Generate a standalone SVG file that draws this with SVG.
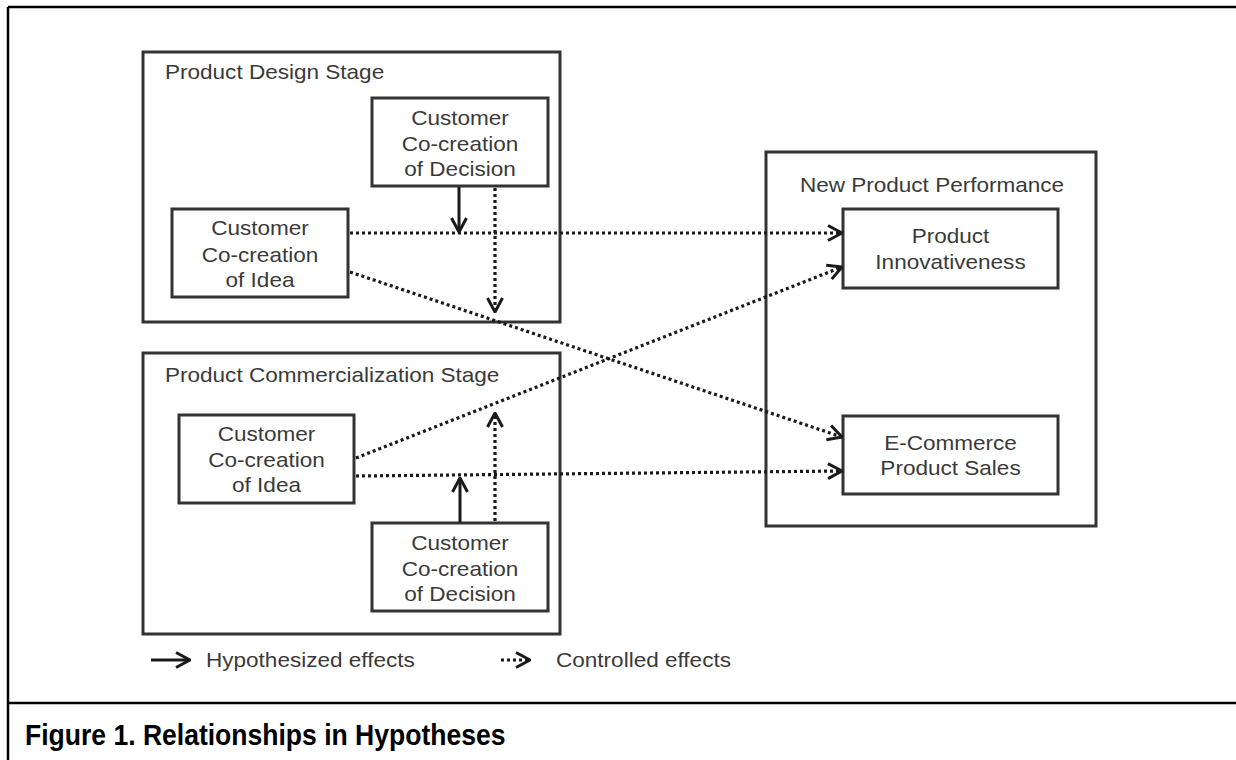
<svg xmlns="http://www.w3.org/2000/svg" width="1236" height="760" viewBox="0 0 1236 760">
<style>
.frame{fill:none;stroke:#000;stroke-width:2.5}
.box{fill:#fff;stroke:#333;stroke-width:3}
.t{font-family:"Liberation Sans",Arial,sans-serif;font-size:20.5px;fill:#3a3a3a}
.c{text-anchor:middle}
.cap{font-family:"Liberation Sans",Arial,sans-serif;font-size:29px;font-weight:bold;fill:#000}
.dot{fill:none;stroke:#1a1a1a;stroke-width:3.2;stroke-dasharray:3 3}
.sol{fill:none;stroke:#1a1a1a;stroke-width:3}
</style>
<defs>
<marker id="ah" viewBox="0 0 16 18" refX="15" refY="9" markerWidth="16" markerHeight="18" markerUnits="userSpaceOnUse" orient="auto">
<path d="M1,1.5 L15,9 L1,16.5" fill="none" stroke="#1a1a1a" stroke-width="3" stroke-linejoin="round" stroke-dasharray="none"/>
</marker>
</defs>
<rect width="1236" height="760" fill="#fff"/>
<g id="frame">
<line class="frame" x1="8" y1="7" x2="1236" y2="7"/>
<line class="frame" x1="8" y1="7" x2="8" y2="760"/>
<line class="frame" x1="8" y1="703" x2="1236" y2="703"/>
<text class="cap" transform="matrix(0.915,0,0,1,25,745)">Figure 1. Relationships in Hypotheses</text>
</g>
<g id="design-stage">
<rect class="box" x="143" y="52" width="417" height="270"/>
<text class="t" transform="matrix(1.1,0,0,1,165,79)">Product Design Stage</text>
</g>
<g id="commercialization-stage">
<rect class="box" x="143" y="353" width="417" height="281"/>
<text class="t" transform="matrix(1.1,0,0,1,165,382)">Product Commercialization Stage</text>
</g>
<g id="performance">
<rect class="box" x="766" y="152" width="330" height="374"/>
<text class="t c" transform="matrix(1.1,0,0,1,932,192)">New Product Performance</text>
</g>
<g id="design-decision">
<rect class="box" x="372" y="98" width="176" height="88"/>
<text class="t c" transform="matrix(1.1,0,0,1,460,125)">Customer</text>
<text class="t c" transform="matrix(1.1,0,0,1,460,151)">Co-creation</text>
<text class="t c" transform="matrix(1.1,0,0,1,460,176)">of Decision</text>
</g>
<g id="design-idea">
<rect class="box" x="172" y="209" width="176" height="88"/>
<text class="t c" transform="matrix(1.1,0,0,1,260,235)">Customer</text>
<text class="t c" transform="matrix(1.1,0,0,1,260,262)">Co-creation</text>
<text class="t c" transform="matrix(1.1,0,0,1,260,287)">of Idea</text>
</g>
<g id="comm-idea">
<rect class="box" x="179" y="415" width="175" height="88"/>
<text class="t c" transform="matrix(1.1,0,0,1,266.5,441)">Customer</text>
<text class="t c" transform="matrix(1.1,0,0,1,266.5,467)">Co-creation</text>
<text class="t c" transform="matrix(1.1,0,0,1,266.5,492)">of Idea</text>
</g>
<g id="comm-decision">
<rect class="box" x="372" y="523" width="176" height="88"/>
<text class="t c" transform="matrix(1.1,0,0,1,460,550)">Customer</text>
<text class="t c" transform="matrix(1.1,0,0,1,460,576)">Co-creation</text>
<text class="t c" transform="matrix(1.1,0,0,1,460,601)">of Decision</text>
</g>
<g id="innovativeness">
<rect class="box" x="843" y="209" width="215" height="79"/>
<text class="t c" transform="matrix(1.1,0,0,1,950.5,243)">Product</text>
<text class="t c" transform="matrix(1.1,0,0,1,950.5,269)">Innovativeness</text>
</g>
<g id="sales">
<rect class="box" x="843" y="416" width="215" height="78"/>
<text class="t c" transform="matrix(1.1,0,0,1,950.5,450)">E-Commerce</text>
<text class="t c" transform="matrix(1.1,0,0,1,950.5,475)">Product Sales</text>
</g>
<g id="connectors">
<line class="dot" x1="350" y1="233" x2="842" y2="233" marker-end="url(#ah)"/>
<line class="dot" x1="350" y1="272" x2="842" y2="437" marker-end="url(#ah)"/>
<line class="sol" x1="459" y1="187" x2="459" y2="232" marker-end="url(#ah)"/>
<line class="dot" x1="495" y1="188" x2="495" y2="312" marker-end="url(#ah)"/>
<line class="dot" x1="356" y1="458" x2="842" y2="267" marker-end="url(#ah)"/>
<line class="dot" x1="356" y1="476" x2="842" y2="471" marker-end="url(#ah)"/>
<line class="sol" x1="460" y1="522" x2="460" y2="478" marker-end="url(#ah)"/>
<line class="dot" x1="495" y1="521" x2="495" y2="413" marker-end="url(#ah)"/>
</g>
<g id="legend">
<line class="sol" x1="151" y1="660" x2="190" y2="660" marker-end="url(#ah)"/>
<text class="t" transform="matrix(1.1,0,0,1,206,667)">Hypothesized effects</text>
<line class="dot" x1="501" y1="660" x2="530" y2="660" marker-end="url(#ah)"/>
<text class="t" transform="matrix(1.1,0,0,1,556,667)">Controlled effects</text>
</g>
</svg>
